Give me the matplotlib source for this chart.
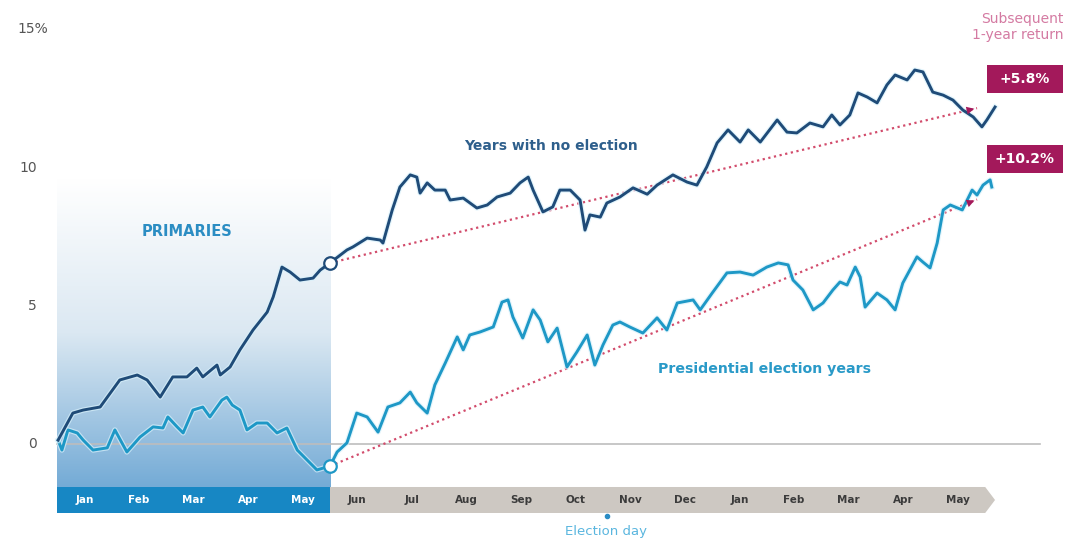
import matplotlib
matplotlib.use('Agg')
import matplotlib.pyplot as plt
import numpy as np
from matplotlib.colors import LinearSegmentedColormap
from matplotlib.patches import Rectangle, Polygon
import matplotlib.patheffects as pe

# ---------------- data ----------------
month_labels = ['Jan', 'Feb', 'Mar', 'Apr', 'May', 'Jun', 'Jul', 'Aug', 'Sep',
                'Oct', 'Nov', 'Dec', 'Jan', 'Feb', 'Mar', 'Apr', 'May']

ytick_values = [0, 5, 10, 15]
ytick_labels = ['0', '5', '10', '15%']

# Years with no election (cumulative return, %), x in months from Jan 1
no_elec_x = [0.02, 0.29, 0.48, 0.79, 1.15, 1.47, 1.65, 1.89, 2.12, 2.38, 2.56, 2.67,
             2.93, 2.99, 3.17, 3.35, 3.59, 3.85, 3.96, 4.12, 4.27, 4.45, 4.69, 4.82,
             5.00, 5.31, 5.42, 5.68, 5.92, 5.97, 6.14, 6.28, 6.47, 6.59, 6.65, 6.78,
             6.92, 7.11, 7.20, 7.44, 7.69, 7.88, 8.06, 8.30, 8.48, 8.63, 8.72, 8.90,
             9.08, 9.21, 9.40, 9.58, 9.67, 9.76, 9.95, 10.07, 10.31, 10.55, 10.81, 10.99,
             11.28, 11.54, 11.72, 11.90, 12.09, 12.29, 12.51, 12.66, 12.88, 13.19, 13.37,
             13.55, 13.79, 14.03, 14.19, 14.34, 14.52, 14.67, 14.84, 15.02, 15.20, 15.35,
             15.57, 15.71, 15.86, 16.04, 16.23, 16.41, 16.59, 16.78, 16.94, 17.03, 17.18]
no_elec_y = [0.14, 1.12, 1.23, 1.34, 2.32, 2.50, 2.32, 1.70, 2.43, 2.43, 2.75, 2.43,
             2.86, 2.50, 2.79, 3.41, 4.13, 4.78, 5.33, 6.41, 6.23, 5.94, 6.01, 6.30,
             6.56, 7.03, 7.14, 7.46, 7.39, 7.28, 8.48, 9.31, 9.75, 9.67, 9.09, 9.46,
             9.20, 9.20, 8.84, 8.91, 8.55, 8.66, 8.95, 9.09, 9.46, 9.67, 9.20, 8.41,
             8.59, 9.20, 9.20, 8.84, 7.75, 8.30, 8.22, 8.73, 8.95, 9.28, 9.05, 9.38,
             9.75, 9.49, 9.38, 10.04, 10.91, 11.38, 10.94, 11.38, 10.94, 11.74, 11.30,
             11.27, 11.63, 11.49, 11.92, 11.56, 11.92, 12.72, 12.57, 12.36, 13.01, 13.37,
             13.19, 13.55, 13.48, 12.75, 12.64, 12.46, 12.10, 11.85, 11.49, 11.74, 12.21]

# Presidential election years (cumulative return, %)
pres_x = [0.02, 0.09, 0.20, 0.37, 0.48, 0.66, 0.92, 1.06, 1.28, 1.52, 1.76, 1.94,
          2.03, 2.20, 2.31, 2.49, 2.67, 2.80, 3.02, 3.11, 3.21, 3.35, 3.48, 3.66,
          3.85, 4.03, 4.21, 4.40, 4.58, 4.76, 5.00, 5.13, 5.31, 5.49, 5.68, 5.88,
          6.06, 6.28, 6.47, 6.59, 6.78, 6.92, 7.11, 7.33, 7.44, 7.56, 7.75, 7.99,
          8.15, 8.26, 8.35, 8.53, 8.72, 8.85, 8.99, 9.16, 9.34, 9.52, 9.71, 9.85,
          10.00, 10.18, 10.31, 10.49, 10.73, 10.99, 11.17, 11.36, 11.65, 11.78, 12.00,
          12.27, 12.51, 12.75, 13.00, 13.21, 13.39, 13.48, 13.66, 13.85, 14.03, 14.21,
          14.34, 14.47, 14.62, 14.71, 14.80, 15.02, 15.20, 15.35, 15.49, 15.75, 15.86,
          15.99, 16.12, 16.23, 16.36, 16.58, 16.76, 16.85, 16.96, 17.09, 17.12]
pres_y = [0.14, -0.22, 0.51, 0.40, 0.14, -0.22, -0.14, 0.51, -0.29, 0.25, 0.62, 0.58,
          0.98, 0.62, 0.40, 1.23, 1.34, 0.98, 1.59, 1.70, 1.41, 1.23, 0.51, 0.76,
          0.76, 0.40, 0.58, -0.22, -0.58, -0.94, -0.80, -0.29, 0.04, 1.12, 0.98, 0.43,
          1.34, 1.49, 1.88, 1.49, 1.12, 2.14, 2.93, 3.88, 3.41, 3.95, 4.06, 4.24,
          5.14, 5.22, 4.60, 3.84, 4.86, 4.49, 3.70, 4.20, 2.79, 3.33, 3.95, 2.86,
          3.59, 4.31, 4.42, 4.24, 4.02, 4.57, 4.13, 5.11, 5.22, 4.86, 5.47,
          6.20, 6.23, 6.12, 6.41, 6.56, 6.49, 5.94, 5.58, 4.86, 5.11, 5.58,
          5.87, 5.76, 6.41, 6.05, 4.96, 5.47, 5.22, 4.86, 5.83, 6.78, 6.59,
          6.38, 7.28, 8.48, 8.66, 8.48, 9.20, 9.02, 9.38, 9.57, 9.31]

# trend arrows (start at end of primaries, end near final month)
trend_start_x = 5.0
trend_end_x = 16.85
no_elec_trend = [6.56, 12.17]
pres_trend = [-0.80, 8.86]
return_labels = ['+5.8%', '+10.2%']
primaries_end = 5
election_day_x = 10.07

# ---------------- style ----------------
DARK = '#1f4b78'
LIGHT = '#1e98c6'
MAGENTA = '#a3195b'
DOT = '#d24c6c'

plt.rcParams['font.family'] = ['DejaVu Sans']

fig = plt.figure(figsize=(10.86, 5.46), dpi=100)
ax = fig.add_axes([0, 0, 1, 1])
xmin, xmax = -1.044, 18.846
ymin, ymax = -3.696, 16.087
ax.axis('off')

band_top, band_bot = -1.558, -2.50
band_mid = (band_top + band_bot) / 2

# primaries gradient
cmap = LinearSegmentedColormap.from_list('prim', ['#ffffff', '#dbe8f2', '#74abd6'])
grad = np.linspace(0, 1, 256).reshape(-1, 1)
ax.imshow(grad, extent=[0, primaries_end, band_top, 9.6], origin='upper',
          cmap=cmap, aspect='auto', zorder=0, interpolation='bicubic')

# zero line
ax.plot([0, 18.0], [0, 0], color='#bdbdbd', lw=1.2, zorder=1)

# month band
ax.add_patch(Rectangle((0, band_bot), primaries_end, band_top - band_bot,
                       fc='#1787c4', ec='none', zorder=2))
n = len(month_labels)
ax.add_patch(Polygon([(primaries_end, band_top), (n, band_top), (n + 0.18, band_mid),
                      (n, band_bot), (primaries_end, band_bot)],
                     closed=True, fc='#cdc8c2', ec='none', zorder=2))
for i, lab in enumerate(month_labels):
    ax.text(i + 0.5, band_mid, lab, ha='center', va='center', fontsize=7.5,
            fontweight='bold', color='white' if i < primaries_end else '#3b3b3b', zorder=3)

# election day
ax.plot([election_day_x], [-2.62], 'o', ms=3, color='#2a8cc4', zorder=3)
ax.text(election_day_x - 0.02, -3.17, 'Election day', ha='center', va='center',
        fontsize=9.5, color='#5ab6df')

# y tick labels
for v, lab in zip(ytick_values, ytick_labels):
    if lab.endswith('%'):
        ax.text(-0.72, v + 0.05, lab, ha='left', va='center', fontsize=10, color='#555555')
    else:
        ax.text(-0.37, v, lab, ha='right', va='center', fontsize=10, color='#555555')

# trend lines
for ys in (no_elec_trend, pres_trend):
    ax.plot([trend_start_x, trend_end_x], ys, color=DOT, lw=1.6,
            linestyle=(0, (1, 1.6)), zorder=3)
    dx = trend_end_x - trend_start_x
    dy = ys[1] - ys[0]
    f = 0.03
    ax.annotate('', xy=(trend_end_x, ys[1]), xytext=(trend_end_x - dx * f, ys[1] - dy * f),
                arrowprops=dict(arrowstyle='-|>', color=MAGENTA, lw=0, mutation_scale=14),
                zorder=6)

# series
glow = [pe.Stroke(linewidth=3.8, foreground='#d8f1fb', alpha=0.7), pe.Normal()]
ax.plot(pres_x, pres_y, color=LIGHT, lw=2.1, zorder=4, path_effects=glow)
ax.plot(no_elec_x, no_elec_y, color=DARK, lw=2.1, zorder=5, path_effects=glow)

# start circles
ax.plot([trend_start_x], [no_elec_trend[0]], 'o', ms=9, mfc='white', mec=DARK, mew=1.6, zorder=7)
ax.plot([trend_start_x], [pres_trend[0]], 'o', ms=9, mfc='white', mec=LIGHT, mew=1.6, zorder=7)

# labels
ax.text(2.38, 7.7, 'PRIMARIES', ha='center', va='center', fontsize=10.5,
        fontweight='bold', color='#2b8dc3')
ax.text(9.05, 10.8, 'Years with no election', ha='center', va='center', fontsize=10,
        fontweight='bold', color='#2e5f8c')
ax.text(12.95, 2.72, 'Presidential election years', ha='center', va='center', fontsize=10.2,
        fontweight='bold', color='#2a9ac8')

ax.text(18.43, 15.1, 'Subsequent\n1-year return', ha='right', va='center', fontsize=10,
        color='#d47aa2', linespacing=1.2)

box_x0, box_x1 = 17.03, 18.42
box_rows = [(12.72, 13.73), (9.82, 10.83)]
for lab, (y0, y1) in zip(return_labels, box_rows):
    ax.add_patch(Rectangle((box_x0, y0), box_x1 - box_x0, y1 - y0, fc=MAGENTA,
                           ec='none', zorder=8))
    ax.text((box_x0 + box_x1) / 2, (y0 + y1) / 2, lab, ha='center', va='center',
            fontsize=10, fontweight='bold', color='white', zorder=9)

ax.set_xlim(xmin, xmax)
ax.set_ylim(ymin, ymax)
fig.savefig('out.png', dpi=100)
